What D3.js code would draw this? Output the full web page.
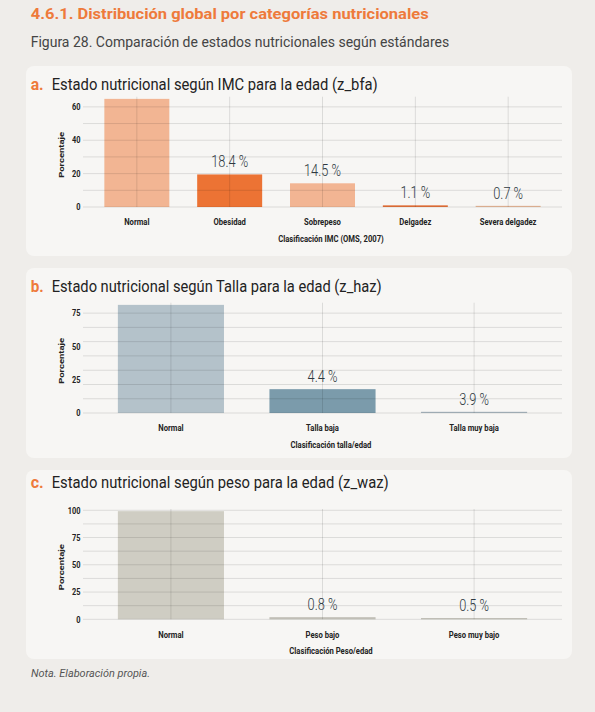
<!DOCTYPE html>
<html><head><meta charset="utf-8">
<script src="https://cdn.jsdelivr.net/npm/d3@7/dist/d3.min.js"></script>
<style>body{margin:0;background:#efedea}svg{display:block}</style>
</head><body>
<svg id="chart" width="595" height="712"></svg>
<script>
// ---------- data ----------
const heading = "4.6.1.  Distribución global por categorías nutricionales";
const caption = "Figura 28. Comparación de estados nutricionales según estándares";
const note = "Nota. Elaboración propia.";

const categoriesA = ["Normal", "Obesidad", "Sobrepeso", "Delgadez", "Severa delgadez"];
const valuesA = [64.8, 19.5, 14.2, 1.0, 0.7];
const labelsA = ["", "18.4 %", "14.5 %", "1.1 %", "0.7 %"];
const yTicksA = [0, 20, 40, 60];
const gridA = [0, 10, 20, 30, 40, 50, 60];

const categoriesB = ["Normal", "Talla baja", "Talla muy baja"];
const valuesB = [81.2, 17.9, 0.9];
const labelsB = ["", "4.4 %", "3.9 %"];
const yTicksB = [0, 25, 50, 75];
const gridB = [0, 10.7, 21.4, 32.1, 42.9, 53.6, 64.3, 75];

const categoriesC = ["Normal", "Peso bajo", "Peso muy bajo"];
const valuesC = [99.2, 2.0, 1.2];
const labelsC = ["", "0.8 %", "0.5 %"];
const yTicksC = [0, 25, 50, 75, 100];
const gridC = [0, 12.5, 25, 37.5, 50, 62.5, 75, 87.5, 100];

// ---------- styles / layout ----------
const ORANGE = "#ee7a3b";
const panels = [
  { letter: "a.", title: "Estado nutricional según IMC para la edad (z_bfa)", titleW: 326,
    xTitle: "Clasificación IMC (OMS, 2007)", cats: categoriesA, vals: valuesA, labels: labelsA,
    ticks: yTicksA, grid: gridA, colors: ["#f2b593", "#ec7334", "#f2b593", "#e2713a", "#e6b898"],
    cardY: 66, cardH: 190, titleY: 89.5, y0: 207 },
  { letter: "b.", title: "Estado nutricional según Talla para la edad (z_haz)", titleW: 330,
    xTitle: "Clasificación talla/edad", cats: categoriesB, vals: valuesB, labels: labelsB,
    ticks: yTicksB, grid: gridB, colors: ["#b4c2ca", "#7b9bab", "#a8b5be"],
    cardY: 268, cardH: 190, titleY: 291.5, y0: 413 },
  { letter: "c.", title: "Estado nutricional según peso para la edad (z_waz)", titleW: 337,
    xTitle: "Clasificación Peso/edad", cats: categoriesC, vals: valuesC, labels: labelsC,
    ticks: yTicksC, grid: gridC, colors: ["#cfcdc3", "#c4c2ba", "#c4c2ba"],
    cardY: 470, cardH: 189, titleY: 488, y0: 619.3 }
];

const svg = d3.select("#chart");
const FONT = "Roboto, 'Noto Sans', sans-serif";

function condense(sel, f) {
  sel.each(function () {
    const w = this.getComputedTextLength();
    if (w > 0) d3.select(this).attr("textLength", w * f).attr("lengthAdjust", "spacingAndGlyphs");
  });
}
function fitW(sel, w) { sel.attr("textLength", w).attr("lengthAdjust", "spacingAndGlyphs"); }

svg.append("rect").attr("width", 595).attr("height", 712).attr("fill", "#efedea");

svg.append("text").attr("x", 30.7).attr("y", 19).attr("font-family", FONT).attr("font-weight", 700)
  .attr("font-size", 15).attr("fill", ORANGE).text(heading).call(fitW, 398);
svg.append("text").attr("x", 30.7).attr("y", 46.5).attr("font-family", FONT).attr("font-weight", 400)
  .attr("font-size", 14).attr("fill", "#444").text(caption).call(fitW, 418.5);
svg.append("text").attr("x", 31).attr("y", 677).attr("font-family", FONT).attr("font-style", "italic")
  .attr("font-size", 11).attr("fill", "#555").text(note).call(fitW, 119);

const X0 = 83, X1 = 562, PLOT_H = 110.3;

panels.forEach(p => {
  const g = svg.append("g");
  g.append("rect").attr("x", 26).attr("y", p.cardY).attr("width", 546).attr("height", p.cardH)
    .attr("rx", 8).attr("fill", "#f7f6f4");

  g.append("text").attr("x", 30.7).attr("y", p.titleY).attr("font-family", FONT).attr("font-weight", 700)
    .attr("font-size", 16).attr("fill", ORANGE).text(p.letter).call(fitW, 13);
  g.append("text").attr("x", 51.7).attr("y", p.titleY).attr("font-family", FONT).attr("font-weight", 400)
    .attr("font-size", 16).attr("fill", "#222").text(p.title).call(fitW, p.titleW);

  const yMax = d3.max(p.vals) * 1.02;
  const y = d3.scaleLinear().domain([0, yMax]).range([p.y0, p.y0 - PLOT_H]);
  const x = d3.scaleBand().domain(p.cats).range([X0, X1]).paddingInner(0.3).paddingOuter(0.23);

  // bars
  g.selectAll("rect.bar").data(p.cats).join("rect").attr("class", "bar")
    .attr("x", d => x(d)).attr("width", x.bandwidth())
    .attr("y", (d, i) => y(p.vals[i])).attr("height", (d, i) => p.y0 - y(p.vals[i]))
    .attr("fill", (d, i) => p.colors[i]);

  // grid
  g.selectAll("line.hg").data(p.grid).join("line").attr("class", "hg")
    .attr("x1", X0).attr("x2", X1).attr("y1", d => y(d)).attr("y2", d => y(d))
    .attr("stroke", "#000").attr("stroke-opacity", 0.11).attr("stroke-width", 1);
  g.selectAll("line.vg").data(p.cats).join("line").attr("class", "vg")
    .attr("x1", d => x(d) + x.bandwidth() / 2).attr("x2", d => x(d) + x.bandwidth() / 2)
    .attr("y1", y(yMax)).attr("y2", p.y0)
    .attr("stroke", "#000").attr("stroke-opacity", 0.11).attr("stroke-width", 1);

  // y axis
  const ya = g.append("g").attr("transform", `translate(${X0 - 2.5},0)`)
    .call(d3.axisLeft(y).tickValues(p.ticks).tickSize(0).tickPadding(0).tickFormat(d3.format("d")));
  ya.select(".domain").remove();
  ya.selectAll("text").attr("font-family", FONT).attr("font-weight", 700).attr("font-size", 8.5)
    .attr("fill", "#222").call(condense, 0.87);

  // x axis
  const xa = g.append("g").attr("transform", `translate(0,${p.y0})`)
    .call(d3.axisBottom(x).tickSize(0).tickPadding(12.3));
  xa.select(".domain").remove();
  xa.selectAll("text").attr("font-family", FONT).attr("font-weight", 700).attr("font-size", 8.5)
    .attr("fill", "#222").call(condense, 0.9);

  g.append("text").attr("x", 331).attr("y", p.y0 + 34.5).attr("text-anchor", "middle")
    .attr("font-family", FONT).attr("font-weight", 700).attr("font-size", 8.5).attr("fill", "#222")
    .text(p.xTitle).call(condense, 0.9);

  g.append("text").attr("transform", `translate(63.5,${p.y0 - PLOT_H / 2 + 3}) rotate(-90)`)
    .attr("text-anchor", "middle").attr("font-family", FONT).attr("font-weight", 700)
    .attr("font-size", 8).attr("fill", "#222").text("Porcentaje").call(fitW, 46);

  // value labels
  g.selectAll("text.val").data(p.cats).join("text").attr("class", "val")
    .attr("x", d => x(d) + x.bandwidth() / 2).attr("y", (d, i) => y(p.vals[i]) - 7)
    .attr("text-anchor", "middle").attr("font-family", FONT).attr("font-weight", 300)
    .attr("font-size", 16).attr("fill", "#2e3941")
    .text((d, i) => p.labels[i]).call(condense, 0.8);
});
</script>
</body></html>
